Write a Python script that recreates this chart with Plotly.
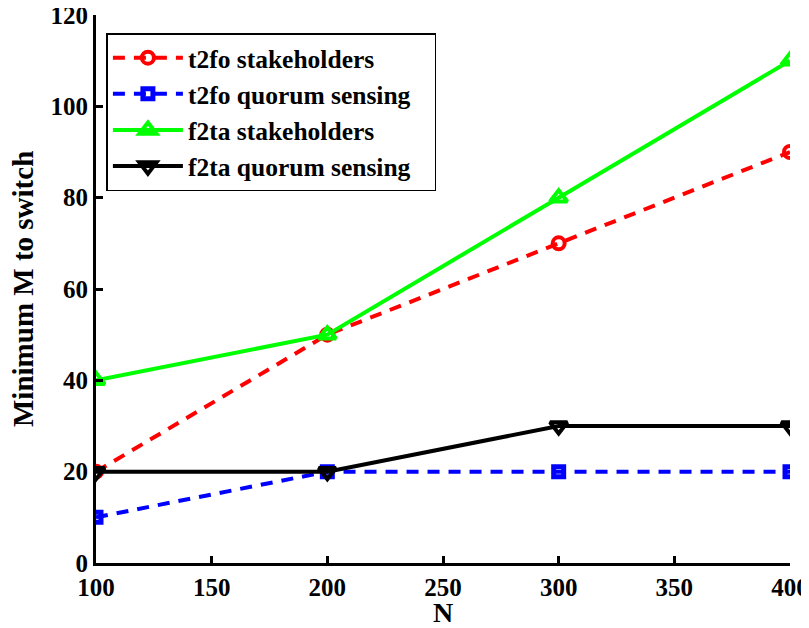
import plotly.graph_objects as go

N = [100, 200, 300, 400]
t2fo_stake = [20, 50, 70, 90]
t2fo_quorum = [10, 20, 20, 20]
f2ta_stake = [40, 50, 80, 110]
f2ta_quorum = [20, 20, 30, 30]
x_ticks = [100, 150, 200, 250, 300, 350, 400]
y_ticks = [0, 20, 40, 60, 80, 100, 120]

FONT = "Liberation Serif"
PAD = "&nbsp;&nbsp;&nbsp;"

fig = go.Figure()
fig.add_trace(go.Scatter(x=N, y=t2fo_stake, name="<b>t2fo stakeholders</b>" + PAD, mode="lines+markers",
                         line=dict(color="#ff0000", width=4, dash="12px,9px"),
                         marker=dict(symbol="circle-open", size=12, color="#ff0000", line=dict(width=4))))
fig.add_trace(go.Scatter(x=N, y=t2fo_quorum, name="<b>t2fo quorum sensing</b>" + PAD, mode="lines+markers",
                         line=dict(color="#0000ff", width=4, dash="12px,9px"),
                         marker=dict(symbol="square-open", size=10, color="#0000ff", line=dict(width=5))))
fig.add_trace(go.Scatter(x=N, y=f2ta_stake, name="<b>f2ta stakeholders</b>" + PAD, mode="lines+markers",
                         line=dict(color="#00ff00", width=4),
                         marker=dict(symbol="triangle-up-open", size=15, color="#00ff00", line=dict(width=4))))
fig.add_trace(go.Scatter(x=N, y=f2ta_quorum, name="<b>f2ta quorum sensing</b>" + PAD, mode="lines+markers",
                         line=dict(color="#000000", width=4),
                         marker=dict(symbol="triangle-down-open", size=15, color="#000000", line=dict(width=4))))

fig.add_annotation(text="<b>Minimum M to switch</b>", textangle=-90, xref="paper", yref="paper",
                   x=0, y=0.5, xanchor="right", yanchor="middle", xshift=-55, yshift=0, showarrow=False,
                   font=dict(family=FONT, size=29, color="black"))

fig.update_layout(
    width=801, height=620,
    margin=dict(l=88, r=19, t=7, b=65),
    plot_bgcolor="white", paper_bgcolor="white",
    font=dict(family=FONT, size=25, color="black"),
    showlegend=True,
    legend=dict(x=0.015, y=0.967, xanchor="left", yanchor="top",
                bordercolor="black", borderwidth=1.5, bgcolor="white",
                font=dict(family=FONT, size=25.5, color="black"),
                tracegroupgap=0, itemwidth=70),
    xaxis=dict(range=[100, 400], tickvals=x_ticks, ticktext=[f"<b>{v}</b>" for v in x_ticks],
               showgrid=False, zeroline=False, showline=True, linecolor="black", linewidth=3,
               ticks="inside", ticklen=7, tickwidth=3, tickcolor="black", automargin=False,
               ticklabeloverflow="allow",
               tickfont=dict(family=FONT, size=25),
               title=dict(text="<b>N</b>", font=dict(family=FONT, size=28), standoff=0)),
    yaxis=dict(range=[0, 120], tickvals=y_ticks, ticktext=[f"<b>{v}</b>" for v in y_ticks],
               showgrid=False, zeroline=False, showline=True, linecolor="black", linewidth=3,
               ticks="inside", ticklen=7, tickwidth=3, tickcolor="black", automargin=False,
               ticklabeloverflow="allow",
               tickfont=dict(family=FONT, size=25)),
)

fig.write_html("out.html")
